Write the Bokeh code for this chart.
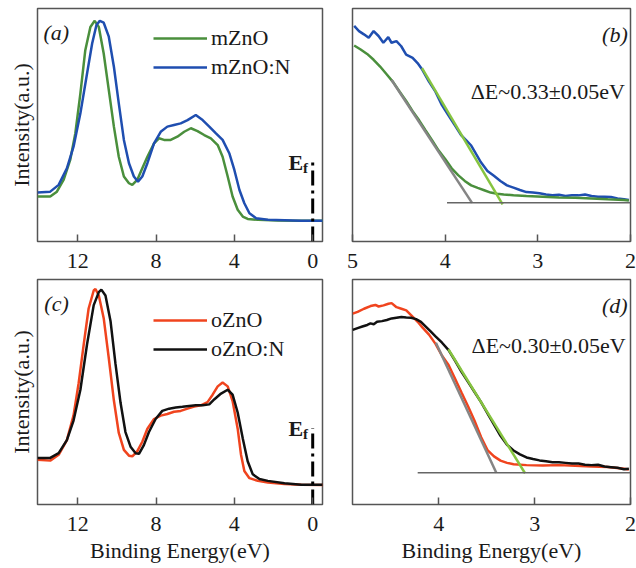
from bokeh.plotting import figure
from bokeh.models import Range1d, FixedTicker, Legend, LegendItem, Label
from bokeh.layouts import row, column
from bokeh.embed import file_html
from bokeh.resources import INLINE

FONT = "Liberation Serif"

# ---------------- data ----------------
# panel (a): mZnO / mZnO:N valence band spectra
a_x_m = [14.05, 13.40, 13.06, 12.72, 12.38, 12.12, 11.86, 11.61, 11.35, 11.13, 10.92, 10.67, 10.41, 10.15,
         9.90, 9.64, 9.38, 9.21, 8.96, 8.70, 8.44, 8.10, 7.85, 7.59, 7.25, 6.91, 6.56, 6.22, 5.88, 5.54,
         5.20, 4.85, 4.60, 4.34, 4.09, 3.83, 3.57, 3.32, 2.80, 1.78, 0.58, -0.53]
a_y_m = [19.3, 19.3, 21.4, 26.4, 35.0, 46.4, 63.6, 82.1, 92.1, 94.7, 92.1, 80.7, 65.0, 49.3,
         36.4, 27.9, 25.0, 24.3, 26.4, 31.4, 36.4, 42.1, 44.3, 43.6, 43.6, 45.0, 47.1, 48.6, 47.4, 45.7,
         44.3, 41.4, 36.4, 27.9, 19.3, 13.6, 10.7, 9.7, 9.3, 9.0, 8.9, 8.9]
a_x_n = [14.05, 13.40, 12.97, 12.55, 12.21, 11.86, 11.52, 11.26, 11.04, 10.87, 10.67, 10.41, 10.15, 9.90,
         9.64, 9.38, 9.13, 8.92, 8.70, 8.44, 8.10, 7.76, 7.42, 7.08, 6.74, 6.39, 5.97, 5.62, 5.28, 4.94,
         4.60, 4.26, 4.00, 3.74, 3.49, 3.23, 2.89, 2.29, 0.58, -0.53]
a_y_n = [21.0, 21.4, 24.3, 31.4, 40.7, 55.0, 72.1, 85.0, 92.9, 94.7, 93.9, 87.9, 75.0, 59.3,
         43.6, 33.6, 27.9, 25.7, 27.9, 33.6, 42.1, 47.1, 49.3, 50.0, 50.7, 52.1, 54.3, 52.1, 49.3, 46.4,
         43.6, 37.9, 30.7, 22.1, 16.4, 12.1, 10.0, 9.3, 8.9, 8.9]

# panel (c): oZnO / oZnO:N
c_x_o = [14.05, 13.40, 12.97, 12.55, 12.21, 11.95, 11.69, 11.44, 11.18, 11.09, 10.92, 10.67, 10.41, 10.15,
         9.90, 9.64, 9.38, 9.21, 8.96, 8.70, 8.44, 8.10, 7.76, 7.42, 7.08, 6.74, 6.39, 6.05, 5.71, 5.37,
         5.11, 4.85, 4.60, 4.34, 4.09, 3.83, 3.66, 3.49, 3.23, 2.80, 2.29, 1.44, 0.58, -0.53]
c_y_o = [19.9, 19.5, 22.1, 28.6, 39.6, 53.9, 71.2, 87.1, 95.1, 95.8, 92.9, 82.8, 65.0, 46.2,
         31.8, 24.3, 21.7, 21.4, 23.6, 27.9, 33.7, 38.0, 39.5, 40.2, 41.2, 41.6, 42.6, 43.5, 44.1, 45.5,
         48.8, 52.5, 54.2, 52.5, 46.0, 33.7, 22.1, 14.9, 11.7, 10.5, 9.8, 9.1, 8.8, 8.7]
c_x_n = [14.05, 13.40, 12.97, 12.55, 12.21, 11.86, 11.52, 11.18, 10.92, 10.79, 10.58, 10.32, 10.07, 9.81,
         9.56, 9.30, 9.04, 8.87, 8.62, 8.36, 8.02, 7.68, 7.33, 6.99, 6.65, 6.31, 5.97, 5.62, 5.28, 5.03,
         4.68, 4.34, 4.09, 3.83, 3.57, 3.32, 3.06, 2.72, 2.29, 1.44, 0.58, -0.53]
c_y_n = [20.7, 20.7, 22.8, 28.6, 37.3, 51.0, 71.2, 88.6, 94.4, 95.5, 92.9, 81.4, 62.6, 45.2,
         32.2, 25.7, 22.8, 22.5, 26.4, 32.2, 38.0, 41.6, 42.6, 43.1, 43.4, 43.8, 44.1, 44.1, 44.5, 46.7,
         49.3, 51.0, 48.8, 40.9, 29.3, 19.2, 13.4, 11.3, 10.5, 9.4, 8.8, 8.8]

# Fermi level marker
ef_x = [0, 0]
ef_y = [0, 34]

# panel (b): valence band edge, mZnO / mZnO:N
b_x_n = [4.982, 4.930, 4.877, 4.825, 4.772, 4.719, 4.667, 4.614, 4.579, 4.526, 4.474, 4.421, 4.351, 4.298,
         4.246, 4.175, 4.105, 4.035, 3.965, 3.895, 3.825, 3.772, 3.719, 3.667, 3.614, 3.544, 3.474, 3.404,
         3.333, 3.263, 3.193, 3.123, 3.053, 2.982, 2.912, 2.842, 2.772, 2.702, 2.632, 2.561, 2.491, 2.421,
         2.351, 2.281, 2.211, 2.140, 2.070, 2.018]
b_y_n = [92.5, 90.3, 88.9, 87.4, 90.3, 88.2, 85.3, 87.7, 85.3, 86.0, 83.8, 80.2, 78.8, 76.6,
         73.7, 68.6, 64.3, 58.5, 54.2, 49.9, 45.5, 43.4, 41.2, 37.6, 34.0, 30.3, 28.2, 26.0,
         24.1, 23.1, 22.1, 21.2, 21.0, 20.7, 20.2, 19.9, 20.1, 19.5, 19.8, 19.8, 20.2, 19.5,
         19.2, 19.2, 19.1, 18.5, 18.1, 17.8]
b_x_m = [4.982, 4.912, 4.842, 4.772, 4.702, 4.632, 4.561, 4.491, 4.421, 4.351, 4.281, 4.211, 4.140, 4.070,
         4.000, 3.930, 3.860, 3.789, 3.719, 3.649, 3.579, 3.509, 3.439, 3.368, 3.263, 3.123, 2.947, 2.772,
         2.596, 2.421, 2.246, 2.070, 2.018]
b_y_m = [84.1, 82.4, 80.5, 78.0, 75.1, 71.8, 68.4, 64.3, 60.3, 55.9, 52.0, 47.7, 43.4, 39.0,
         35.4, 31.4, 28.5, 26.0, 24.1, 23.0, 22.0, 21.0, 20.5, 20.2, 19.8, 19.5, 19.2, 18.9,
         18.8, 18.5, 18.1, 17.8, 17.6]
b_fit_m_x = [4.58, 3.71]
b_fit_m_y = [69.4, 16.6]
b_fit_n_x = [4.25, 3.38]
b_fit_n_y = [74.4, 15.9]
b_base_x = [3.98, 2.0]
b_base_y = [16.6, 16.6]

# panel (d): valence band edge, oZnO / oZnO:N
d_x_o = [4.898, 4.847, 4.780, 4.712, 4.661, 4.627, 4.576, 4.525, 4.492, 4.441, 4.390, 4.339, 4.271, 4.220,
         4.169, 4.102, 4.034, 3.966, 3.898, 3.831, 3.763, 3.695, 3.627, 3.559, 3.492, 3.424, 3.356, 3.288,
         3.220, 3.085, 2.915, 2.746, 2.576, 2.407, 2.237, 2.068, 2.017]
d_y_o = [84.8, 85.6, 87.0, 88.2, 88.7, 88.0, 88.5, 89.2, 89.5, 87.7, 87.0, 86.3, 83.4, 81.2,
         78.6, 75.5, 71.4, 66.1, 62.0, 56.0, 49.8, 43.7, 37.2, 30.0, 24.2, 21.4, 19.5, 18.5,
         17.9, 17.5, 17.3, 17.5, 17.2, 16.9, 16.7, 15.9, 15.6]
d_x_n = [4.898, 4.847, 4.797, 4.746, 4.712, 4.678, 4.644, 4.593, 4.542, 4.492, 4.441, 4.390, 4.339, 4.288,
         4.237, 4.186, 4.136, 4.085, 4.034, 3.966, 3.898, 3.831, 3.763, 3.695, 3.627, 3.559, 3.492, 3.424,
         3.356, 3.288, 3.220, 3.153, 3.085, 3.017, 2.949, 2.881, 2.814, 2.746, 2.678, 2.610, 2.542, 2.475,
         2.407, 2.339, 2.271, 2.203, 2.136, 2.068, 2.017]
d_y_n = [77.6, 78.4, 79.1, 79.8, 80.5, 80.1, 81.2, 81.5, 82.0, 82.7, 83.0, 83.3, 83.1, 83.0,
         82.4, 81.2, 79.1, 76.9, 74.7, 71.9, 68.6, 64.0, 59.0, 54.5, 50.0, 45.5, 40.5, 35.5,
         30.5, 26.5, 24.0, 22.3, 20.9, 20.2, 19.6, 19.2, 18.8, 18.8, 18.5, 18.2, 18.2, 17.7,
         17.5, 17.7, 16.9, 16.6, 16.3, 15.7, 15.9]
d_fit_o_x = [4.03, 3.40]
d_fit_o_y = [71.9, 14.1]
d_fit_n_x = [3.90, 3.10]
d_fit_n_y = [69.0, 13.9]
d_base_x = [4.22, 2.0]
d_base_y = [14.1, 14.1]

ticks_wide = [12, 8, 4, 0]
ticks_b = [5, 4, 3, 2]
ticks_d = [4, 3, 2]

# ---------------- style ----------------
C_GREEN = "#4a8f3c"
C_BLUE = "#1f4eb0"
C_RED = "#f0441e"
C_BLACK = "#111111"
C_FIT = "#86c440"
C_GRAY = "#858585"
C_BASE = "#666666"
C_FRAME = "#555555"
LW = 2.5


def make_fig(width, height, xr, ticks, bl, br, bt, bb, ylabel=None, xlabel=None):
    p = figure(width=width, height=height, x_range=Range1d(*xr), y_range=Range1d(0, 100),
               output_backend="svg", toolbar_location=None,
               y_axis_location=("left" if ylabel else None),
               min_border_left=bl, min_border_right=br, min_border_top=bt, min_border_bottom=bb)
    p.grid.visible = False
    p.outline_line_color = C_FRAME
    p.outline_line_width = 1.5
    p.background_fill_color = "white"
    p.border_fill_color = "white"
    xa = p.xaxis[0]
    xa.ticker = FixedTicker(ticks=ticks)
    xa.major_tick_in = 7
    xa.major_tick_out = 0
    xa.minor_tick_line_color = None
    xa.axis_line_color = None
    xa.major_tick_line_color = C_FRAME
    xa.major_tick_line_width = 1.5
    xa.major_label_text_font = FONT
    xa.major_label_text_font_size = "22px"
    xa.major_label_text_color = "#1a1a1a"
    xa.major_label_standoff = 12
    if xlabel:
        xa.axis_label = xlabel
        xa.axis_label_text_font = FONT
        xa.axis_label_text_font_size = "22px"
        xa.axis_label_text_font_style = "normal"
        xa.axis_label_text_color = "#1a1a1a"
        xa.axis_label_standoff = 4
    if ylabel:
        ya = p.yaxis[0]
        ya.ticker = FixedTicker(ticks=[])
        ya.major_tick_line_color = None
        ya.minor_tick_line_color = None
        ya.axis_line_color = None
        ya.major_label_text_font_size = "0px"
        ya.axis_label = ylabel
        ya.axis_label_text_font = FONT
        ya.axis_label_text_font_size = "22px"
        ya.axis_label_text_font_style = "normal"
        ya.axis_label_text_color = "#1a1a1a"
        ya.axis_label_standoff = 4
    return p


def add_text(p, x, y, text, size="22px", style="normal", align="left", baseline="top"):
    p.add_layout(Label(x=x, y=y, text=text, text_font=FONT, text_font_size=size,
                       text_font_style=style, text_align=align, text_baseline=baseline,
                       text_color="#1a1a1a"))


def add_legend(p, items, loc):
    lg = Legend(items=items, location=loc, border_line_color=None, background_fill_alpha=0,
                padding=0, margin=0, spacing=3, glyph_width=54, glyph_height=20, label_height=20,
                label_standoff=4, label_text_font=FONT, label_text_font_size="22px",
                label_text_color="#1a1a1a")
    p.add_layout(lg)


def add_ef(p, ye, yf):
    p.line(ef_x, ef_y, line_color="black", line_width=3, line_dash="15 5 3 5")
    add_text(p, 1.23, ye, "E", style="bold", baseline="alphabetic")
    add_text(p, 0.50, yf, "f", size="15px", style="bold", baseline="alphabetic")


LEFT_W, RIGHT_W = 330, 306
TOP_H, BOT_H = 277, 291

# panel (a)
pa = make_fig(LEFT_W, TOP_H, (14.05, -0.5), ticks_wide, 37, 8, 8, 36, ylabel="Intensity(a.u.)")
ra1 = pa.line(a_x_m, a_y_m, line_color=C_GREEN, line_width=LW)
ra2 = pa.line(a_x_n, a_y_n, line_color=C_BLUE, line_width=LW)
add_ef(pa, 34, 31.5)
add_text(pa, 13.75, 95, "(a)", style="italic")
add_legend(pa, [LegendItem(label="mZnO", renderers=[ra1]),
                LegendItem(label="mZnO:N", renderers=[ra2])], (116, 161))

# panel (b)
pb = make_fig(RIGHT_W, TOP_H, (5.0, 2.0), ticks_b, 22, 6, 8, 36)
pb.line(b_x_n, b_y_n, line_color=C_BLUE, line_width=LW)
pb.line(b_x_m, b_y_m, line_color=C_GREEN, line_width=LW)
pb.line(b_fit_m_x, b_fit_m_y, line_color=C_GRAY, line_width=LW)
pb.line(b_fit_n_x, b_fit_n_y, line_color=C_FIT, line_width=LW)
pb.line(b_base_x, b_base_y, line_color=C_BASE, line_width=1.5)
add_text(pb, 2.03, 94, "(b)", style="italic", align="right")
add_text(pb, 2.06, 64.5, "\u0394E~0.33\u00b10.05eV", align="right", baseline="middle")

# panel (c)
pc = make_fig(LEFT_W, BOT_H, (14.05, -0.5), ticks_wide, 37, 8, 2, 64,
              ylabel="Intensity(a.u.)", xlabel="Binding Energy(eV)")
rc1 = pc.line(c_x_o, c_y_o, line_color=C_RED, line_width=LW)
rc2 = pc.line(c_x_n, c_y_n, line_color=C_BLACK, line_width=LW)
add_ef(pc, 34, 31.5)
add_text(pc, 13.7, 95, "(c)", style="italic")
add_legend(pc, [LegendItem(label="oZnO", renderers=[rc1]),
                LegendItem(label="oZnO:N", renderers=[rc2])], (116, 142))

# panel (d)
pd_ = make_fig(RIGHT_W, BOT_H, (4.9, 2.0), ticks_d, 22, 6, 2, 64, xlabel="Binding Energy(eV)")
pd_.line(d_x_o, d_y_o, line_color=C_RED, line_width=LW)
pd_.line(d_x_n, d_y_n, line_color=C_BLACK, line_width=LW)
pd_.line(d_fit_o_x, d_fit_o_y, line_color=C_GRAY, line_width=LW)
pd_.line(d_fit_n_x, d_fit_n_y, line_color=C_FIT, line_width=LW)
pd_.line(d_base_x, d_base_y, line_color=C_BASE, line_width=1.5)
add_text(pd_, 2.03, 94, "(d)", style="italic", align="right")
add_text(pd_, 2.05, 70.6, "\u0394E~0.30\u00b10.05eV", align="right", baseline="middle")

layout = row(column(pa, pc), column(pb, pd_))

open("out.html", "w").write(file_html(layout, INLINE))
